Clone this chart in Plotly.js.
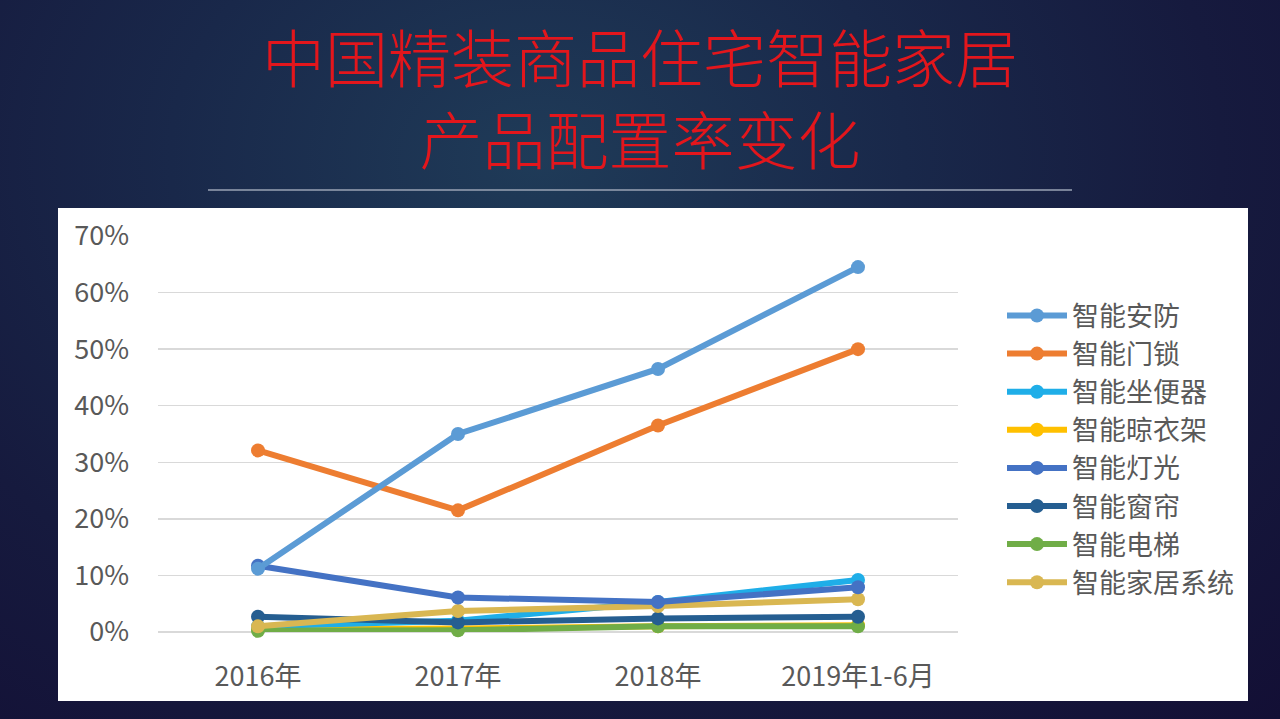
<!DOCTYPE html>
<html><head><meta charset="utf-8">
<script src="https://cdn.plot.ly/plotly-3.0.1.min.js"></script>
<style>
html,body{margin:0;padding:0;width:1280px;height:719px;overflow:hidden;
background: radial-gradient(ellipse at 42% 22%, #1f3b58 0%, #19284a 35%, #161a3e 65%, #130f35 100%);}
#chart{width:1280px;height:719px;}
</style></head>
<body><div id="chart"></div>
<script>
const categories = ["2016年", "2017年", "2018年", "2019年1-6月"];
const seriesNames = ["智能安防", "智能门锁", "智能坐便器", "智能晾衣架", "智能灯光", "智能窗帘", "智能电梯", "智能家居系统"];
const anfang   = [0.112, 0.350, 0.465, 0.645];
const mensuo   = [0.321, 0.215, 0.365, 0.500];
const zuobianqi= [0.010, 0.020, 0.053, 0.092];
const liangyijia=[0.005, 0.006, 0.010, 0.012];
const dengguang= [0.117, 0.061, 0.053, 0.079];
const chuanglian=[0.027, 0.017, 0.024, 0.027];
const dianti   = [0.002, 0.003, 0.010, 0.010];
const jiaju    = [0.010, 0.037, 0.046, 0.058];
const colors = ["#5B9BD5", "#ED7D31", "#1FAEE8", "#FFC000", "#4472C4", "#255E91", "#70AD47", "#D9B752"];
const values = [anfang, mensuo, zuobianqi, liangyijia, dengguang, chuanglian, dianti, jiaju];
const drawOrder = [3, 2, 6, 5, 7, 4, 1, 0];

const traces = drawOrder.map(i => ({
  type: "scatter", mode: "lines+markers", x: categories, y: values[i], name: seriesNames[i],
  line: {color: colors[i], width: 6}, marker: {color: colors[i], size: 14},
  legendrank: i + 1, cliponaxis: false
}));

const font = "Noto Sans CJK SC, Noto Sans, sans-serif";
const layout = {
  width: 1280, height: 719,
  paper_bgcolor: "rgba(0,0,0,0)", plot_bgcolor: "rgba(0,0,0,0)",
  margin: {l: 158, r: 322, t: 236, b: 87},
  showlegend: true,
  legend: {x: 1.055, xanchor: "left", y: 0.86, yanchor: "top", font: {family: font, size: 27, color: "#595959"},
           bgcolor: "rgba(0,0,0,0)", tracegroupgap: 0, itemwidth: 60},
  xaxis: {type: "category", range: [-0.5, 3.5], showgrid: false, zeroline: false, showline: false, ticks: "",
          tickfont: {family: font, size: 27, color: "#595959"}, ticklabelstandoff: 26, fixedrange: true},
  yaxis: {range: [0, 0.7], dtick: 0.1, tickformat: ".0%", gridcolor: "#d9d9d9", gridwidth: 1.5,
          zeroline: true, zerolinecolor: "#d9d9d9", zerolinewidth: 1.5, showline: false,
          tickfont: {family: font, size: 27, color: "#595959"}, ticklabelstandoff: 28, fixedrange: true},
  shapes: [
    {type: "rect", xref: "paper", yref: "paper", layer: "below",
     x0: (58-158)/800, x1: (1248-158)/800, y0: (719-87-701)/396, y1: (719-87-208)/396,
     fillcolor: "#ffffff", line: {width: 0}},
    {type: "line", xref: "paper", yref: "paper",
     x0: (208-158)/800, x1: (1072-158)/800, y0: (719-87-190)/396, y1: (719-87-190)/396,
     line: {color: "#9aa3b5", width: 1.5}}
  ],
  annotations: [
    {text: "中国精装商品住宅智能家居<br>产品配置率变化", xref: "paper", yref: "paper", x: (640-158)/800, y: (719-87-96)/396,
     xanchor: "center", yanchor: "middle", align: "center", showarrow: false,
     font: {family: font, size: 63, weight: 300, color: "#E3161C"}}
  ]
};
Plotly.newPlot("chart", traces, layout, {displayModeBar: false, staticPlot: true});
</script></body></html>
